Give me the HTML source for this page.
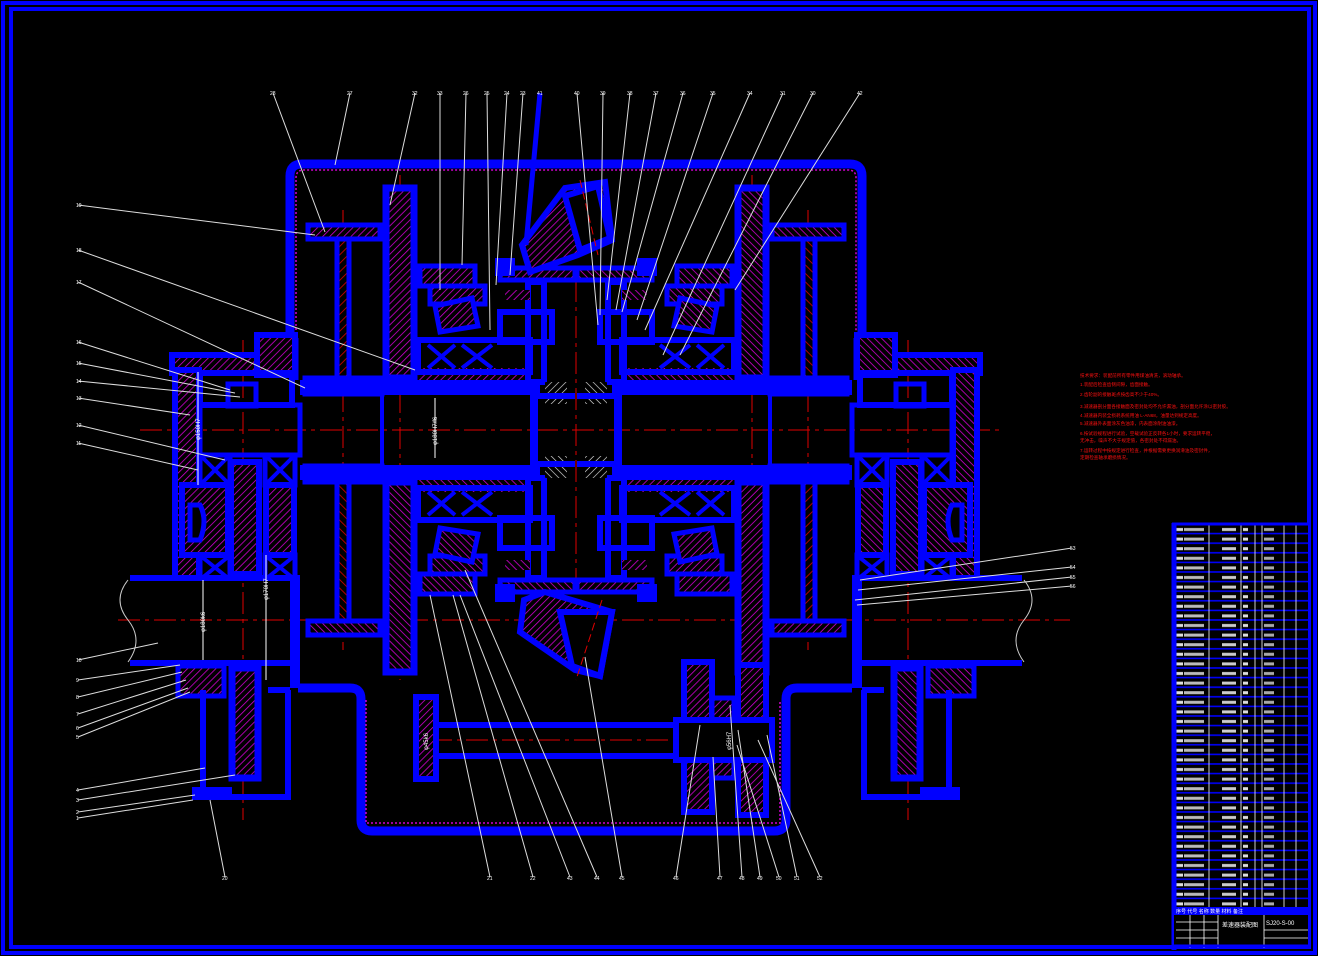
<!DOCTYPE html>
<html><head><meta charset="utf-8"><style>
html,body{margin:0;padding:0;background:#000;}
svg{display:block;}
text{font-family:"Liberation Sans","Noto Sans CJK SC",sans-serif;}
</style></head><body>
<svg width="1318" height="956" viewBox="0 0 1318 956" xmlns="http://www.w3.org/2000/svg">
<defs>
<pattern id="hm" width="5" height="5" patternUnits="userSpaceOnUse" patternTransform="rotate(45)"><rect width="5" height="5" fill="#000"/><line x1="0" y1="0" x2="0" y2="5" stroke="#d000d0" stroke-width="1.6"/></pattern>
<pattern id="hr" width="6" height="6" patternUnits="userSpaceOnUse" patternTransform="rotate(45)"><rect width="6" height="6" fill="#000"/><line x1="0" y1="0" x2="0" y2="6" stroke="#e00000" stroke-width="1.6"/></pattern>
<pattern id="hw" width="5" height="5" patternUnits="userSpaceOnUse" patternTransform="rotate(45)"><rect width="5" height="5" fill="#000"/><line x1="0" y1="0" x2="0" y2="5" stroke="#ddd" stroke-width="1.3"/></pattern>
<pattern id="tx" x="1172" y="525" width="136" height="9.6" patternUnits="userSpaceOnUse"><rect width="136" height="9.6" fill="#000"/><rect x="3" y="3" width="8" height="3" fill="#ddd"/><rect x="12" y="3" width="20" height="3" fill="#bbb"/><rect x="50" y="3" width="14" height="3" fill="#ccc"/><rect x="71" y="3" width="5" height="3" fill="#ddd"/><rect x="92" y="3" width="10" height="3" fill="#aaa"/><line x1="0" y1="8.6" x2="136" y2="8.6" stroke="#00f" stroke-width="1.6"/></pattern>
<g id="quad">
 <rect x="308" y="225" width="72" height="14" fill="url(#hm)" stroke="#00f" stroke-width="5"/>
 <rect x="337" y="239" width="12" height="141" fill="url(#hr)" stroke="#00f" stroke-width="5"/>
 <rect x="305" y="378" width="77" height="16" fill="url(#hr)" stroke="#00f" stroke-width="5"/>
 <rect x="386" y="188" width="28" height="190" fill="url(#hm)" stroke="#00f" stroke-width="7"/>
 <rect x="300" y="380" width="240" height="15" fill="#00f"/>
 <path d="M382,430 V395 M532,395 V430" stroke="#00f" stroke-width="4"/>
 <rect x="418" y="368" width="115" height="12" fill="url(#hm)"/>
 <rect x="420" y="266" width="55" height="20" fill="url(#hm)" stroke="#00f" stroke-width="5"/>
 <rect x="430" y="286" width="55" height="18" fill="url(#hm)" stroke="#00f" stroke-width="5"/>
 <polygon points="435,306 472,298 478,326 440,332" fill="url(#hm)" stroke="#00f" stroke-width="5"/>
 <rect x="418" y="340" width="112" height="32" fill="none" stroke="#00f" stroke-width="6"/>
 <path d="M428,345 L455,368 M455,345 L428,368 M462,345 L492,368 M492,345 L462,368" stroke="#00f" stroke-width="4"/>
 <rect x="500" y="268" width="75" height="12" fill="url(#hm)" stroke="#00f" stroke-width="5"/>
 <rect x="495" y="258" width="20" height="18" fill="#00f"/>
 <rect x="528" y="282" width="16" height="100" fill="none" stroke="#00f" stroke-width="6"/>
 <rect x="500" y="312" width="52" height="30" fill="none" stroke="#00f" stroke-width="6"/>
 <rect x="545" y="382" width="22" height="22" fill="url(#hw)"/>
 <path d="M535,430 V396 H575" fill="none" stroke="#00f" stroke-width="6"/>
 <rect x="505" y="290" width="25" height="10" fill="url(#hm)"/>
</g>
<g id="outer">
 <rect x="172" y="355" width="90" height="18" fill="url(#hm)" stroke="#00f" stroke-width="6"/>
 <rect x="257" y="335" width="38" height="40" fill="url(#hm)" stroke="#00f" stroke-width="6"/>
 <rect x="175" y="370" width="24" height="208" fill="url(#hm)" stroke="#00f" stroke-width="6"/>
 <rect x="200" y="373" width="92" height="32" fill="none" stroke="#00f" stroke-width="6"/>
 <rect x="228" y="384" width="28" height="22" fill="none" stroke="#00f" stroke-width="5"/>
 <rect x="200" y="405" width="100" height="50" fill="none" stroke="#00f" stroke-width="5"/>
 <rect x="200" y="455" width="30" height="30" fill="none" stroke="#00f" stroke-width="5"/>
 <path d="M202,457 L228,483 M228,457 L202,483 M267,457 L293,483 M293,457 L267,483 M202,557 L228,578 M228,557 L202,578 M267,557 L293,578 M293,557 L267,578" stroke="#00f" stroke-width="4"/>
 <rect x="265" y="455" width="30" height="30" fill="none" stroke="#00f" stroke-width="5"/>
 <rect x="231" y="462" width="28" height="112" fill="url(#hm)" stroke="#00f" stroke-width="6"/>
 <rect x="266" y="485" width="28" height="70" fill="url(#hm)" stroke="#00f" stroke-width="6"/>
 <rect x="182" y="485" width="46" height="70" fill="url(#hm)" stroke="#00f" stroke-width="6"/>
 <path d="M190,505 H200 Q208,520 200,540 H190 Z" fill="#000" stroke="#00f" stroke-width="5"/>
 <rect x="200" y="555" width="30" height="23" fill="none" stroke="#00f" stroke-width="5"/>
 <rect x="265" y="555" width="30" height="23" fill="none" stroke="#00f" stroke-width="5"/>
 <line x1="130" y1="578" x2="300" y2="578" stroke="#00f" stroke-width="6"/>
 <line x1="130" y1="663" x2="300" y2="663" stroke="#00f" stroke-width="6"/>
 <rect x="290" y="578" width="10" height="110" fill="#00f"/>
 <rect x="178" y="666" width="46" height="30" fill="url(#hm)" stroke="#00f" stroke-width="5"/>
 <rect x="232" y="668" width="26" height="110" fill="url(#hm)" stroke="#00f" stroke-width="7"/>
 <path d="M203,690 V797 H288 V690" fill="none" stroke="#00f" stroke-width="6"/>
 <rect x="192" y="787" width="40" height="13" fill="#00f"/>
 <path d="M268,690 H290" stroke="#00f" stroke-width="6"/>
</g>
</defs>
<rect x="0" y="0" width="1318" height="956" fill="#000"/>
<rect x="3" y="3" width="1312" height="950" fill="none" stroke="#00f" stroke-width="4"/>
<rect x="11" y="9" width="1298" height="938" fill="none" stroke="#00f" stroke-width="4"/>

<g stroke="#e00000" stroke-width="1" stroke-dasharray="22,5,4,5" fill="none">
<line x1="140" y1="430" x2="1000" y2="430"/><line x1="118" y1="620" x2="1070" y2="620"/>
<line x1="430" y1="740" x2="770" y2="740"/><line x1="343" y1="210" x2="343" y2="650"/>
<line x1="808" y1="210" x2="808" y2="650"/><line x1="243" y1="340" x2="243" y2="820"/>
<line x1="908" y1="340" x2="908" y2="820"/><line x1="576" y1="280" x2="576" y2="580"/>
<line x1="400" y1="175" x2="400" y2="680"/><line x1="752" y1="175" x2="752" y2="680"/>
</g>

<path d="M290,338 V176 Q290,164 302,164 H850 Q862,164 862,176 V338" fill="none" stroke="#00f" stroke-width="9"/>
<path d="M296,338 V178 Q296,170 304,170 H848 Q856,170 856,178 V338" fill="none" stroke="#d000d0" stroke-width="1.5" stroke-dasharray="2,2"/>
<path d="M295,338 V380 M857,338 V380" stroke="#00f" stroke-width="7"/>
<path d="M298,688 H350 Q361,688 361,699 V820 Q361,831 372,831 H774 Q786,831 786,820 V699 Q786,688 797,688 H852" fill="none" stroke="#00f" stroke-width="9"/>
<path d="M366,700 V823 H780 V700" fill="none" stroke="#d000d0" stroke-width="1.5" stroke-dasharray="2,2"/>

<use href="#quad"/>
<use href="#quad" transform="translate(0,860) scale(1,-1)"/>
<use href="#quad" transform="translate(1152,0) scale(-1,1)"/>
<use href="#quad" transform="translate(1152,860) scale(-1,-1)"/>
<use href="#outer"/>
<use href="#outer" transform="translate(1152,0) scale(-1,1)"/>

<polygon points="522,245 565,188 605,182 612,240 578,255 530,272" fill="url(#hm)" stroke="#00f" stroke-width="6"/>
<polygon points="565,196 598,186 610,238 580,250" fill="#000" stroke="#00f" stroke-width="6"/>
<line x1="540" y1="93" x2="526" y2="245" stroke="#00f" stroke-width="5"/>
<polygon points="524,600 545,592 612,612 600,676 575,670 520,632" fill="url(#hm)" stroke="#00f" stroke-width="6"/>
<polygon points="560,612 612,612 600,676 572,666" fill="#000" stroke="#00f" stroke-width="6"/>
<line x1="580" y1="180" x2="598" y2="255" stroke="#e00000" stroke-dasharray="8,4"/>
<line x1="602" y1="600" x2="576" y2="680" stroke="#e00000" stroke-dasharray="8,4"/>

<rect x="416" y="697" width="20" height="82" fill="url(#hm)" stroke="#00f" stroke-width="6"/>
<line x1="436" y1="725" x2="770" y2="725" stroke="#00f" stroke-width="6"/>
<line x1="436" y1="756" x2="770" y2="756" stroke="#00f" stroke-width="6"/>
<rect x="684" y="662" width="28" height="150" fill="url(#hm)" stroke="#00f" stroke-width="6"/>
<rect x="712" y="698" width="22" height="80" fill="url(#hm)" stroke="#00f" stroke-width="5"/>
<rect x="738" y="665" width="28" height="150" fill="url(#hm)" stroke="#00f" stroke-width="6"/>
<rect x="676" y="720" width="96" height="40" fill="#000" stroke="#00f" stroke-width="6"/>

<path d="M128,580 Q112,600 128,620 Q144,640 128,662" fill="none" stroke="#ccc" stroke-width="1"/>
<path d="M1024,580 Q1040,600 1024,620 Q1008,640 1024,662" fill="none" stroke="#ccc" stroke-width="1"/>

<g fill="#fff" font-size="6">
<text transform="translate(437,445) rotate(-90)">φ180H7/f6</text>
<text transform="translate(200,440) rotate(-90)">φ150H7</text>
<text transform="translate(205,632) rotate(-90)">φ180k6</text>
<text transform="translate(268,600) rotate(-90)">φ170H7</text>
<text transform="translate(428,750) rotate(-90)">φ45k6</text>
<text transform="translate(731,750) rotate(-90)">φ56H7</text>
</g>
<g stroke="#fff" stroke-width="1">
<line x1="435" y1="398" x2="435" y2="458"/><line x1="198" y1="372" x2="198" y2="485"/><line x1="203" y1="580" x2="203" y2="660"/><line x1="266" y1="555" x2="266" y2="680"/>
</g>

<g stroke="#ddd" stroke-width="1" fill="none">
<path d="M273,93 L325,232 M350,93 L335,165 M415,93 L390,205 M440,93 L440,290 M466,93 L462,265 M487,93 L490,330 M507,93 L496,285 M523,93 L510,275 M577,93 L598,325 M603,93 L600,315 M630,93 L607,300 M656,93 L616,310 M683,93 L622,312 M713,93 L637,320 M750,93 L645,330 M783,93 L663,355 M813,93 L680,355 M860,93 L735,290"/>
<path d="M78,205 L315,235 M78,250 L415,370 M78,282 L305,388 M78,342 L230,390 M78,363 L235,393 M78,381 L240,397 M78,398 L190,415 M78,425 L225,460 M78,443 L198,470"/>
<path d="M78,660 L158,643 M78,680 L180,665 M78,697 L182,672 M78,714 L186,680 M78,728 L188,688 M78,737 L190,692 M78,790 L205,768 M78,800 L235,775 M78,812 L195,795 M78,818 L193,800"/>
<path d="M225,877 L210,800 M490,877 L430,595 M533,877 L453,595 M570,877 L460,595 M597,877 L465,570 M622,877 L585,657 M676,877 L700,725 M720,877 L713,757 M742,877 L730,705 M760,877 L738,730 M779,877 L737,745 M797,877 L767,735 M820,877 L758,740"/>
<path d="M1072,548 L860,580 M1072,567 L858,590 M1072,577 L855,600 M1072,586 L857,605"/>
</g>
<g fill="#fff" font-size="5">
<text x="270" y="95">28</text><text x="347" y="95">27</text><text x="412" y="95">32</text><text x="437" y="95">33</text><text x="463" y="95">26</text><text x="484" y="95">25</text><text x="504" y="95">24</text><text x="520" y="95">23</text><text x="537" y="95">41</text><text x="574" y="95">40</text><text x="600" y="95">39</text><text x="627" y="95">38</text><text x="653" y="95">37</text><text x="680" y="95">36</text><text x="710" y="95">35</text><text x="747" y="95">34</text><text x="780" y="95">31</text><text x="810" y="95">30</text><text x="857" y="95">42</text>
<text x="76" y="207">19</text><text x="76" y="252">18</text><text x="76" y="284">17</text><text x="76" y="344">16</text><text x="76" y="365">15</text><text x="76" y="383">14</text><text x="76" y="400">13</text><text x="76" y="427">12</text><text x="76" y="445">11</text>
<text x="76" y="662">10</text><text x="76" y="682">9</text><text x="76" y="699">8</text><text x="76" y="716">7</text><text x="76" y="730">6</text><text x="76" y="739">5</text><text x="76" y="792">4</text><text x="76" y="802">3</text><text x="76" y="814">2</text><text x="76" y="820">1</text>
<text x="222" y="880">20</text><text x="487" y="880">21</text><text x="530" y="880">22</text><text x="567" y="880">43</text><text x="594" y="880">44</text><text x="619" y="880">45</text><text x="673" y="880">46</text><text x="717" y="880">47</text><text x="739" y="880">48</text><text x="757" y="880">49</text><text x="776" y="880">50</text><text x="794" y="880">51</text><text x="817" y="880">52</text>
<text x="1070" y="550">53</text><text x="1070" y="569">54</text><text x="1070" y="579">55</text><text x="1070" y="588">56</text>
</g>

<g fill="#ff1010" font-size="4.6">
<text x="1080" y="377">技术要求：装配前所有零件用煤油清洗，滚动轴承。</text>
<text x="1080" y="386">1.装配后检查齿侧间隙，齿面接触。</text>
<text x="1080" y="396">2.齿轮副的接触斑点按齿高不少于40%。</text>
<text x="1080" y="408">3.减速器剖分面各接触面及密封处均不允许漏油，剖分面允许涂以密封胶。</text>
<text x="1080" y="417">4.减速器内装全损耗系统用油 L-AN68，油量达到规定高度。</text>
<text x="1080" y="425">5.减速器外表面涂灰色油漆，内表面涂耐油油漆。</text>
<text x="1080" y="435">6.按试验规程进行试验，空载试验正反转各1小时，要求运转平稳，</text>
<text x="1080" y="442">无冲击，噪声不大于规定值，各密封处不得漏油。</text>
<text x="1080" y="452">7.运转过程中按规定进行检查，并根据需要更换润滑油及密封件，</text>
<text x="1080" y="459">定期检查轴承磨损情况。</text>
</g>

<rect x="1172" y="525" width="136" height="382" fill="url(#tx)"/>
<g stroke="#fff" stroke-width="0.8">
<line x1="1209" y1="525" x2="1209" y2="907"/><line x1="1241" y1="525" x2="1241" y2="907"/><line x1="1255" y1="525" x2="1255" y2="907"/><line x1="1262" y1="525" x2="1262" y2="907"/><line x1="1284" y1="525" x2="1284" y2="907"/><line x1="1296" y1="525" x2="1296" y2="907"/>
</g>
<line x1="1174" y1="523" x2="1174" y2="950" stroke="#00f" stroke-width="5"/>
<line x1="1172" y1="524" x2="1308" y2="524" stroke="#00f" stroke-width="3"/>
<rect x="1174" y="907" width="134" height="8" fill="#00f"/>
<g fill="#fff" font-size="5"><text x="1176" y="913">序号 代号 名称 数量 材料 备注</text></g>
<rect x="1174" y="915" width="134" height="31" fill="#000"/>
<g stroke="#fff" stroke-width="0.8" fill="none">
<line x1="1176" y1="922" x2="1218" y2="922"/><line x1="1176" y1="930" x2="1218" y2="930"/><line x1="1176" y1="938" x2="1218" y2="938"/><line x1="1218" y1="915" x2="1218" y2="948"/><line x1="1264" y1="915" x2="1264" y2="948"/><line x1="1264" y1="930" x2="1308" y2="930"/><line x1="1264" y1="938" x2="1308" y2="938"/><line x1="1190" y1="915" x2="1190" y2="948"/><line x1="1204" y1="915" x2="1204" y2="948"/>
</g>
<g fill="#fff" font-size="6"><text x="1222" y="927">差速器装配图</text><text x="1266" y="925">SJ20-S-00</text></g>
<line x1="1174" y1="946" x2="1308" y2="946" stroke="#00f" stroke-width="3"/>
</svg>
</body></html>
